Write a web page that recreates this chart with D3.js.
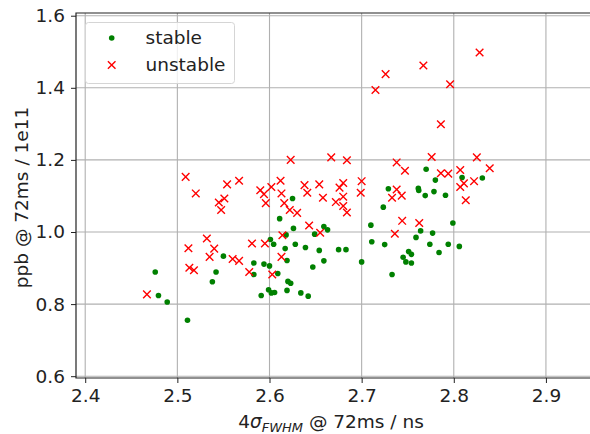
<!DOCTYPE html>
<html>
<head>
<meta charset="utf-8">
<script src="https://cdn.jsdelivr.net/npm/d3@7"></script>
<style>
  body { margin: 0; background: #fff; }
  text { font-family: "DejaVu Sans", sans-serif; }
</style>
</head>
<body>
<script>
// stable points: [4sigma_FWHM, ppb]
const stableX = [2.476, 2.4795, 2.489, 2.511, 2.538, 2.542, 2.550, 2.583, 2.583, 2.594,
  2.600, 2.591, 2.599, 2.602, 2.6055, 2.609, 2.611, 2.601, 2.6045, 2.617,
  2.619, 2.619, 2.620, 2.623, 2.626, 2.628, 2.618, 2.634, 2.625, 2.649,
  2.659, 2.663, 2.639, 2.654, 2.675, 2.683, 2.659, 2.647, 2.642, 2.710,
  2.711, 2.725, 2.700, 2.733, 2.745, 2.751, 2.754, 2.748, 2.754, 2.759,
  2.764, 2.774, 2.777, 2.784, 2.794, 2.799, 2.806, 2.729, 2.7615, 2.762,
  2.769, 2.770, 2.7785, 2.780, 2.7235, 2.791, 2.809, 2.831];
const stableY = [0.889, 0.824, 0.806, 0.755, 0.862, 0.889, 0.933, 0.914, 0.882, 0.911,
  0.906, 0.824, 0.840, 0.831, 0.832, 0.885, 1.037, 0.979, 0.966, 0.954,
  0.921, 0.838, 0.863, 0.858, 1.010, 0.966, 0.992, 0.831, 1.093, 0.994,
  1.015, 1.006, 0.957, 0.949, 0.951, 0.951, 0.920, 0.903, 0.822, 1.019,
  0.973, 0.965, 0.917, 0.882, 0.930, 0.946, 0.938, 0.917, 0.914, 0.985,
  1.003, 0.966, 0.997, 0.943, 0.966, 1.025, 0.960, 1.120, 1.121, 1.115,
  1.101, 1.174, 1.112, 1.144, 1.069, 1.102, 1.151, 1.150];

// unstable points
const unstableX = [2.509, 2.520, 2.545, 2.551, 2.5475, 2.554, 2.567, 2.590, 2.594, 2.596,
  2.602, 2.612, 2.613, 2.616, 2.622, 2.623, 2.630, 2.512, 2.532, 2.540,
  2.535, 2.513, 2.518, 2.560, 2.567, 2.581, 2.578, 2.595, 2.603, 2.613,
  2.614, 2.467, 2.638, 2.641, 2.654, 2.658, 2.643, 2.655, 2.667, 2.684,
  2.680, 2.676, 2.680, 2.672, 2.680, 2.684, 2.700, 2.699, 2.738, 2.747,
  2.776, 2.786, 2.794, 2.738, 2.733, 2.7435, 2.744, 2.7625, 2.736, 2.828,
  2.767, 2.726, 2.715, 2.796, 2.786, 2.825, 2.839, 2.807, 2.822, 2.811,
  2.807, 2.813];
const unstableY = [1.153, 1.107, 1.082, 1.093, 1.061, 1.132, 1.142, 1.116, 1.105, 1.080,
  1.125, 1.142, 1.107, 1.080, 1.061, 1.200, 1.053, 0.955, 0.982, 0.954,
  0.931, 0.901, 0.894, 0.925, 0.920, 0.968, 0.889, 0.968, 0.882, 0.931,
  0.991, 0.827, 1.130, 1.109, 1.132, 1.095, 1.018, 0.998, 1.207, 1.199,
  1.136, 1.123, 1.098, 1.083, 1.072, 1.054, 1.141, 1.109, 1.193, 1.170,
  1.208, 1.163, 1.162, 1.118, 1.095, 1.101, 1.031, 1.025, 0.995, 1.498,
  1.462, 1.438, 1.394, 1.410, 1.299, 1.207, 1.177, 1.172, 1.141, 1.135,
  1.125, 1.088];

const xTicks = [2.4, 2.5, 2.6, 2.7, 2.8, 2.9];
const yTicks = [0.6, 0.8, 1.0, 1.2, 1.4, 1.6];
const legendLabels = ["stable", "unstable"];

const app = {

  init: () => {
    app.frame();
    app.points();
    app.legend();
  },

  frame: () => {
    const W = 590, H = 434;
    app.fs = "18.5px";
    app.m = { left: 76, top: 13, right: 592, bottom: 378 };
    app.svg = d3.select("body").append("svg")
      .attr("width", W)
      .attr("height", H);

    app.x = d3.scaleLinear().domain([2.39, 2.95]).range([app.m.left, app.m.right]);
    app.y = d3.scaleLinear().domain([0.595, 1.6075]).range([app.m.bottom, app.m.top]);

    // grid lines
    const grid = app.svg.append("g");
    grid.selectAll("line.gx").data(xTicks).enter().append("line")
      .attr("x1", d => app.x(d)).attr("x2", d => app.x(d))
      .attr("y1", app.m.top).attr("y2", app.m.bottom)
      .style("stroke", "#b0b0b0").style("stroke-width", 1.1);
    grid.selectAll("line.gy").data(yTicks).enter().append("line")
      .attr("y1", d => app.y(d)).attr("y2", d => app.y(d))
      .attr("x1", app.m.left).attr("x2", app.m.right)
      .style("stroke", "#b0b0b0").style("stroke-width", 1.1);

    // axes
    const xAxis = d3.axisBottom(app.x).tickValues(xTicks)
      .tickFormat(d3.format(".1f")).tickSizeOuter(0).tickSize(5).tickPadding(6);
    const yAxis = d3.axisLeft(app.y).tickValues(yTicks)
      .tickFormat(d3.format(".1f")).tickSizeOuter(0).tickSize(5).tickPadding(6);

    const gx = app.svg.append("g")
      .attr("transform", "translate(0," + app.m.bottom + ")")
      .call(xAxis);
    const gy = app.svg.append("g")
      .attr("transform", "translate(" + app.m.left + ",0)")
      .call(yAxis);
    [gx, gy].forEach(g => {
      g.select(".domain").remove();
      g.selectAll("text").style("font-size", app.fs).style("fill", "#222");
      g.selectAll("line").style("stroke", "#222");
    });

    // spines (left, bottom, top)
    app.svg.append("path")
      .attr("d", "M" + app.m.right + "," + app.m.top + "H" + app.m.left +
        "V" + app.m.bottom + "H" + app.m.right)
      .style("fill", "none").style("stroke", "#222").style("stroke-width", 1.2);

    // axis labels
    const xl = app.svg.append("text")
      .attr("x", 331).attr("y", 428)
      .attr("text-anchor", "middle")
      .style("font-size", app.fs).style("fill", "#222");
    xl.append("tspan").text("4");
    xl.append("tspan").style("font-style", "italic").text("σ");
    xl.append("tspan").attr("dy", 4).style("font-style", "italic")
      .style("font-size", "13px").text("FWHM");
    xl.append("tspan").attr("dy", -4).text(" @ 72ms / ns");

    app.svg.append("text")
      .attr("transform", "translate(28," + ((app.m.top + app.m.bottom) / 2 + 2) + ") rotate(-90)")
      .attr("text-anchor", "middle")
      .style("font-size", app.fs).style("fill", "#222")
      .text("ppb @ 72ms / 1e11");
  },

  points: () => {
    const stable = stableX.map((d, i) => [d, stableY[i]]);
    const unstable = unstableX.map((d, i) => [d, unstableY[i]]);

    app.svg.append("g").selectAll("circle")
      .data(stable)
      .enter()
      .append("circle")
      .attr("cx", d => app.x(d[0]))
      .attr("cy", d => app.y(d[1]))
      .attr("r", 2.8)
      .style("fill", "#008000");

    const s = 3.8;
    app.svg.append("g").selectAll("path")
      .data(unstable)
      .enter()
      .append("path")
      .attr("d", d => {
        const cx = app.x(d[0]), cy = app.y(d[1]);
        return "M" + (cx - s) + "," + (cy - s) + "L" + (cx + s) + "," + (cy + s) +
          "M" + (cx - s) + "," + (cy + s) + "L" + (cx + s) + "," + (cy - s);
      })
      .style("stroke", "#ff0000")
      .style("stroke-width", 1.4)
      .style("fill", "none");
  },

  legend: () => {
    const lg = app.svg.append("g");
    lg.append("rect")
      .attr("x", 85.5).attr("y", 22.5)
      .attr("width", 149).attr("height", 61)
      .attr("rx", 3)
      .style("fill", "#fff").style("fill-opacity", 0.8)
      .style("stroke", "#d5d5d5").style("stroke-width", 1);

    const rowY = [38, 65];
    lg.append("circle")
      .attr("cx", 111.7).attr("cy", rowY[0]).attr("r", 2.8)
      .style("fill", "#008000");
    const s = 3.8, cx = 111.7, cy = rowY[1];
    lg.append("path")
      .attr("d", "M" + (cx - s) + "," + (cy - s) + "L" + (cx + s) + "," + (cy + s) +
        "M" + (cx - s) + "," + (cy + s) + "L" + (cx + s) + "," + (cy - s))
      .style("stroke", "#ff0000").style("stroke-width", 1.4);

    lg.selectAll("text.lab")
      .data(legendLabels)
      .enter()
      .append("text")
      .attr("x", 145.5)
      .attr("y", (d, i) => rowY[i])
      .attr("dy", "0.35em")
      .style("font-size", app.fs).style("fill", "#222")
      .text(d => d);
  }

}

app.init();
</script>
</body>
</html>
